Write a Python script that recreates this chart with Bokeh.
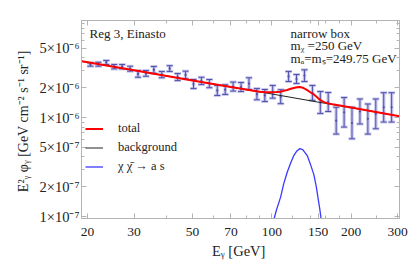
from bokeh.plotting import figure
from bokeh.models import (FixedTicker, LogAxis, CustomJSTickFormatter, Label,
                          Legend, LegendItem, ColumnDataSource)
from bokeh.embed import file_html
from bokeh.resources import INLINE

# ---------------- data (values in units of 1e-6 GeV cm^-2 s^-1 sr^-1) -------------
data_E = [20.50, 21.97, 23.55, 25.24, 27.05, 28.99, 31.07, 33.30, 35.68, 38.24,
          40.98, 43.92, 47.07, 50.45, 54.07, 57.94, 62.09, 66.55, 71.32, 76.44,
          81.92, 87.79, 94.08, 100.8, 108.1, 115.8, 124.1, 133.0, 142.6, 152.8,
          163.7, 175.5, 188.1, 201.5, 216.0, 231.5, 248.1, 265.9, 284.9]
data_val = [3.43, 3.46, 3.60, 3.26, 3.26, 3.11, 2.76, 2.79, 3.03, 2.71,
            3.12, 2.56, 2.69, 2.18, 2.34, 2.20, 1.88, 1.91, 2.05, 2.03,
            2.20, 1.72, 1.67, 1.82, 1.62, 2.60, 2.45, 2.65, 1.77, 1.42,
            1.43, 0.93, 1.13, 0.88, 1.15, 0.97, 1.09, 1.27, 1.27]
data_lo = [3.30, 3.30, 3.43, 3.10, 3.10, 2.94, 2.55, 2.61, 2.80, 2.52,
           2.92, 2.36, 2.46, 1.96, 2.15, 2.00, 1.67, 1.71, 1.85, 1.83,
           1.92, 1.51, 1.45, 1.57, 1.38, 2.31, 2.21, 2.31, 1.49, 1.10,
           1.15, 0.68, 0.80, 0.61, 0.86, 0.68, 0.77, 0.90, 0.90]
data_hi = [3.57, 3.62, 3.77, 3.43, 3.43, 3.30, 2.98, 2.98, 3.28, 2.92,
           3.34, 2.78, 2.94, 2.42, 2.55, 2.42, 2.11, 2.14, 2.28, 2.26,
           2.52, 1.96, 1.92, 2.11, 1.91, 2.92, 2.72, 3.03, 2.11, 1.83,
           1.79, 1.27, 1.59, 1.27, 1.54, 1.37, 1.54, 1.78, 1.78]

bg_E = [19, 30, 50, 70, 100, 150, 200, 305]
bg_val = [3.70, 3.00, 2.37, 2.03, 1.73, 1.43, 1.26, 1.03]

total_E = [19, 30, 50, 70, 90, 95, 100, 104, 108, 111, 114.4, 118, 121.2, 124.5,
           127.8, 131, 136.3, 140, 144.4, 147.5, 150, 154, 158, 163, 170, 200, 305]
total_val = [3.70, 3.00, 2.37, 2.03, 1.82, 1.80, 1.80, 1.81, 1.82, 1.86, 1.90, 1.95,
             1.99, 2.02, 2.03, 2.00, 1.89, 1.80, 1.71, 1.63, 1.56, 1.48, 1.43, 1.39,
             1.36, 1.26, 1.03]

sig_E = [101.8, 104, 108, 111, 114.4, 118, 121.2, 124.5, 127.8, 131, 136.3, 140,
         144.4, 147.5, 150, 152, 154]
sig_val = [0.093, 0.115, 0.157, 0.215, 0.280, 0.350, 0.413, 0.460, 0.485, 0.475,
           0.413, 0.340, 0.265, 0.200, 0.150, 0.120, 0.093]

x_ticks = [20, 30, 50, 70, 100, 150, 200, 300]
x_tick_labels = ["20", "30", "50", "70", "100", "150", "200", "300"]
x_minor = [40, 60, 80, 90, 120, 140, 160, 180, 250]
y_ticks = [1e-7, 2e-7, 5e-7, 1e-6, 2e-6, 5e-6]
y_tick_labels = ["1×10⁻⁷", "2×10⁻⁷", "5×10⁻⁷", "1×10⁻⁶", "2×10⁻⁶", "5×10⁻⁶"]
y_minor = [3e-7, 4e-7, 6e-7, 7e-7, 8e-7, 9e-7, 3e-6, 4e-6, 6e-6, 7e-6, 8e-6, 9e-6]

U = 1e-6
FONT = "Liberation Serif"
FRAME = "#b4b4b4"

p = figure(width=409, height=265, x_axis_type="log", y_axis_type="log",
           x_range=(18.96, 305.2), y_range=(0.955e-7, 9.55e-6),
           output_backend="svg", toolbar_location=None,
           min_border_left=81, min_border_right=10, min_border_top=20,
           min_border_bottom=47)
p.grid.visible = False
p.outline_line_color = FRAME
p.background_fill_color = "white"

fmt_code = """
for (let i = 0; i < tvals.length; i++) {
  if (Math.abs(tvals[i] - tick) / tvals[i] < 1e-6) return tlabels[i];
}
return "";
"""
xfmt = CustomJSTickFormatter(args=dict(tvals=x_ticks, tlabels=x_tick_labels), code=fmt_code)
yfmt = CustomJSTickFormatter(args=dict(tvals=y_ticks, tlabels=y_tick_labels), code=fmt_code)

def style_axis(ax, labels=True):
    ax.axis_line_color = FRAME
    ax.major_tick_line_color = FRAME
    ax.minor_tick_line_color = FRAME
    ax.major_tick_in = 5
    ax.major_tick_out = 0
    ax.minor_tick_in = 3
    ax.minor_tick_out = 0
    ax.major_label_text_font = FONT
    ax.major_label_text_color = "#222222"
    ax.axis_label_text_font = FONT
    ax.axis_label_text_font_style = "normal"
    ax.axis_label_text_color = "#222222"
    if not labels:
        ax.major_label_text_font_size = "0px"
        ax.major_label_standoff = 0

xa = p.xaxis[0]
xa.ticker = FixedTicker(ticks=x_ticks, minor_ticks=x_minor)
xa.formatter = xfmt
style_axis(xa)
xa.major_label_text_font_size = "13.5px"
xa.major_label_standoff = 9
xa.axis_label = "Eᵧ  [GeV]"
xa.axis_label_text_font_size = "14.5px"
xa.axis_label_standoff = 4

ya = p.yaxis[0]
ya.ticker = FixedTicker(ticks=y_ticks, minor_ticks=y_minor)
ya.formatter = yfmt
style_axis(ya)
ya.major_label_text_font_size = "14.5px"
ya.major_label_standoff = 2
ya.axis_label = "E²ᵧ φᵧ  [GeV cm⁻² s⁻¹ sr⁻¹]"
ya.axis_label_text_font_size = "14px"
ya.axis_label_standoff = 6

top = LogAxis(ticker=FixedTicker(ticks=x_ticks, minor_ticks=x_minor),
              formatter=CustomJSTickFormatter(code="return '';"))
style_axis(top, labels=False)
p.add_layout(top, "above")
right = LogAxis(ticker=FixedTicker(ticks=y_ticks, minor_ticks=y_minor),
                formatter=CustomJSTickFormatter(code="return '';"))
style_axis(right, labels=False)
p.add_layout(right, "right")

# ---------------- data points with error bars ----------------
src = ColumnDataSource(dict(E=data_E,
                            v=[v * U for v in data_val],
                            lo=[v * U for v in data_lo],
                            hi=[v * U for v in data_hi]))
p.segment(x0="E", y0="lo", x1="E", y1="hi", source=src,
          line_color="#bdbde8", line_width=3.5, line_alpha=0.8)
p.scatter(x="E", y="lo", source=src, marker="dash", size=7,
          line_color="#bdbde8", line_width=3, line_alpha=0.8)
p.scatter(x="E", y="hi", source=src, marker="dash", size=7,
          line_color="#bdbde8", line_width=3, line_alpha=0.8)
p.segment(x0="E", y0="lo", x1="E", y1="hi", source=src,
          line_color="#5050aa", line_width=1)
p.scatter(x="E", y="lo", source=src, marker="dash", size=6,
          line_color="#5050aa", line_width=1)
p.scatter(x="E", y="hi", source=src, marker="dash", size=6,
          line_color="#5050aa", line_width=1)
p.scatter(x="E", y="v", source=src, marker="circle", size=2.2,
          fill_color="#5050aa", line_color=None)

# ---------------- curves ----------------
r_bg = p.line(bg_E, [v * U for v in bg_val], line_color="#222222", line_width=1)
r_tot = p.line(total_E, [v * U for v in total_val], line_color="#ff0000", line_width=2)
r_sig = p.line(sig_E, [v * U for v in sig_val], line_color="#3a3aff", line_width=1.3)

legend = Legend(items=[LegendItem(label="total", renderers=[r_tot]),
                       LegendItem(label="background", renderers=[r_bg]),
                       LegendItem(label="χ χ̄ → a s", renderers=[r_sig])],
                location=(4, 42), orientation="vertical")
legend.background_fill_alpha = 0
legend.border_line_alpha = 0
legend.label_text_font = FONT
legend.label_text_font_size = "12.5px"
legend.label_text_color = "#222222"
legend.glyph_width = 18
legend.glyph_height = 19
legend.label_height = 19
legend.label_standoff = 15
legend.padding = 0
legend.spacing = 0
legend.margin = 0
p.add_layout(legend, "center")

# ---------------- text annotations ----------------
def add_text(x, y, t):
    p.add_layout(Label(x=x, y=y, text=t, text_font=FONT, text_font_size="13px",
                       text_color="#222222", text_baseline="middle", text_align="left"))

add_text(20.35, 7.05e-6, "Reg  3,  Einasto")
add_text(117.8, 7.05e-6, "narrow  box")
add_text(117.8, 5.34e-6, "mᵪ =250  GeV")
add_text(117.8, 3.94e-6, "mₐ=mₛ=249.75  GeV")

open("out.html", "w").write(file_html(p, INLINE))
